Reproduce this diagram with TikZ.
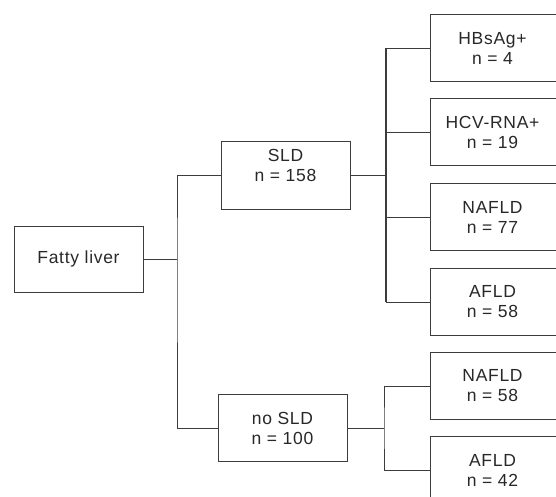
\documentclass[tikz,border=0pt]{standalone}
\usepackage{fontspec}
\setmainfont{Liberation Sans}[LetterSpace=4]
\definecolor{boxgray}{RGB}{60,60,60}
\definecolor{textgray}{RGB}{40,40,40}
\usetikzlibrary{positioning, calc}
\newcommand{\leaftext}[2]{\parbox{124pt}{\centering #1\\#2}\hspace{20pt}}

\begin{document}
\begin{tikzpicture}[x=1pt, y=-1pt,
  box/.style={draw=boxgray, line width=1pt, fill=white, minimum height=67pt, inner sep=0pt, align=center, text=textgray, font=\fontsize{17.5}{20}\selectfont},
  midbox/.style={box, minimum width=129pt},
  leafbox/.style={box, anchor=west},
  link/.style={draw=boxgray, line width=0.9pt},
  trunk/.style={draw=boxgray, line width=2.6pt}]

  \useasboundingbox (0,0) rectangle (556,497);
  \clip (0,0) rectangle (556,497);

  % Root
  \node[midbox, minimum height=66pt] (fatty) at (78.5,259) {Fatty liver};

  % Middle level
  \node[midbox] (sld) at (285.5,175.5) {SLD\\n = 158\\[0pt]};
  \node[midbox] (nosld) at (282.5,428) {no SLD\\n = 100};

  % Leaves (boxes run off the right edge)
  \node[leafbox] (hbsag) at (430,48.5) {\leaftext{HBsAg+}{n = 4}};
  \node[leafbox] (hcv) at (430,132.5) {\leaftext{HCV-RNA+}{n = 19}};
  \node[leafbox] (nafld) at (430,217) {\leaftext{NAFLD}{n = 77}};
  \node[leafbox] (afld) at (430,302) {\leaftext{AFLD}{n = 58}};
  \node[leafbox] (nafldb) at (430,386) {\leaftext{NAFLD}{n = 58}};
  \node[leafbox] (afldb) at (430,470) {\leaftext{AFLD}{n = 42}};

  % Connectors
  \coordinate (jl) at (177,259);
  \coordinate (jr) at (386,175.5);
  \coordinate (jn) at (384,428);
  \draw[link] (fatty.east) -- (jl);
  \draw[link] (sld.west) -| (jl) |- (nosld.west);
  \draw[link] (sld.east) -- (jr);
  \draw[trunk] (jr |- hbsag.west) -- (jr |- afld.west);
  \foreach \n in {hbsag, hcv, nafld, afld}
    \draw[link] (jr |- \n.west) -- (\n.west);
  \draw[link] (nosld.east) -- (jn);
  \draw[link] (nafldb.west) -| (jn) |- (afldb.west);
\end{tikzpicture}
\end{document}
